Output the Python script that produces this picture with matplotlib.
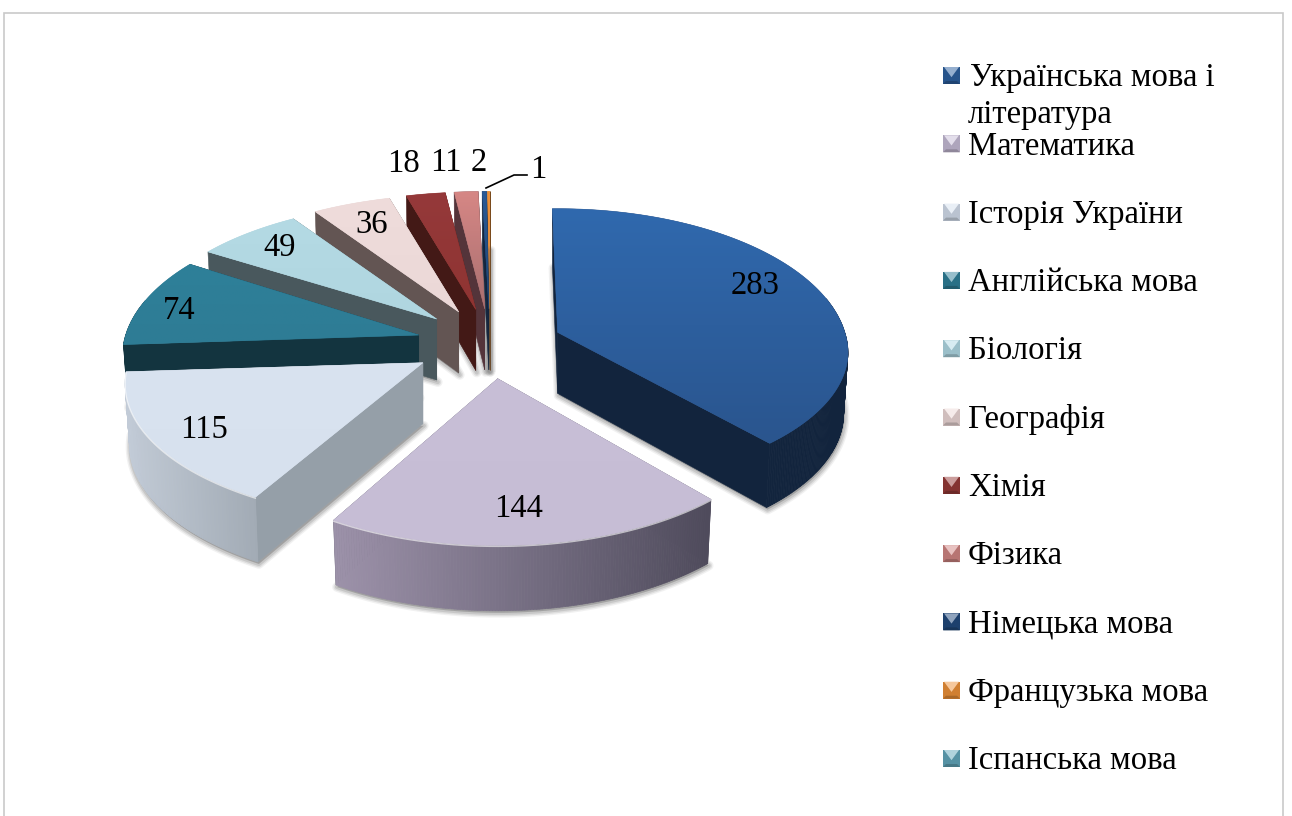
import numpy as np
import matplotlib
matplotlib.use("Agg")
import matplotlib.pyplot as plt
from matplotlib.colors import to_rgb
from matplotlib.patches import Polygon, Rectangle

plt.rcParams['font.family'] = ['Liberation Serif', 'DejaVu Serif']

# data
SUBJECTS = ["Українська мова і\nлітература", "Математика", "Історія України",
            "Англійська мова", "Біологія", "Географія", "Хімія", "Фізика",
            "Німецька мова", "Французька мова", "Іспанська мова"]
COUNTS   = [283, 144, 115, 74, 49, 36, 18, 11, 2, 1, 0]

# styles, one per subject
TOP_HI   = ["#3069ae", "#c8bfd7", "#d9e3f0", "#2e8099", "#b4dae4", "#efdcdb",
            "#95393a", "#d68785", "#2a5a96", "#ee8f35", "#5a9cb0"]
TOP_LO   = ["#2a558e", "#c6bdd5", "#d7e1ee", "#2e7c95", "#b0d6e0", "#ebd8d7",
            "#8f3432", "#a96f70", "#1f4473", "#e08a3c", "#5a9cb0"]
SIDE_L   = ["#12243d", "#9d92aa", "#c2cbd7", "#13343f", "#49585d", "#635553",
            "#431916", "#54343a", "#12243d", "#7a4a1c", "#2c4d57"]
SIDE_R   = ["#12243d", "#4f4b5c", "#a2abb5", "#13343f", "#49585d", "#635553",
            "#431916", "#54343a", "#12243d", "#7a4a1c", "#2c4d57"]
EDGE     = ["#12243d", "#4f4b5c", "#959fa8", "#13343f", "#49585d", "#635553",
            "#431916", "#54343a", "#12243d", "#7a4a1c", "#2c4d57"]
BEVEL    = [False, True, True, False, False, False, False, False, False, False, False]
LEGEND_C = ["#2c5f9e", "#c6bcd6", "#d3deec", "#2f7f98", "#b0d9e4", "#ecd8d7",
            "#963a38", "#d08583", "#21497c", "#ec9038", "#62a6ba"]
LABEL_XY = [(755, 286), (519, 509), (204, 430), (179, 311), (280, 248), (372, 225),
            (404, 164), (446, 163), (479, 163), (538, 170)]
# small per-slice position fixes (dx, dy) and outer scales
NUDGE    = [(-2, 4), (0, 0), (-2, 2), (1, 3), (-1, 3), (-1, 3), (0, 3), (0, 3), (0, 3), (0, 3), (0, 0)]
SCALE_X  = [0.98, 0.985, 1.005, 1.0, 1.0, 1.0, 1.0, 1.0, 1.0, 1.0, 1.0]
BACK_Y   = [1.0, 1.0, 1.0, 1.0, 0.95, 0.95, 0.95, 0.95, 0.95, 0.95, 1.0]
FRONT_Y  = [0.92, 1.0, 0.95, 1.0, 1.0, 1.0, 1.0, 1.0, 1.0, 1.0, 1.0]

# geometry of the tilted pie, in pixels
CENTER_X, CENTER_Y = 490, 341
RADIUS_X, RADIUS_Y = 293, 142
TILT     = 0.148
EXPLODE  = 0.257
DEPTH    = 61
FONT     = 23.5
DRAW_ORDER = [9, 8, 7, 6, 5, 4, 3, 2, 0, 1]
BLUE_LEAD  = 1.2


def project(theta_deg, r=1.0):
    theta = np.radians(theta_deg)
    u = r * np.sin(theta)
    v = r * np.cos(theta)
    w = 1 + TILT * v
    return RADIUS_X * u / w, -RADIUS_Y * v / w


def depth_at(theta_deg):
    return DEPTH / (1 + 0.45 * TILT * np.cos(np.radians(theta_deg)))


def mix(a, b, t):
    a, b = np.array(to_rgb(a)), np.array(to_rgb(b))
    return tuple(a + (b - a) * t)


def draw_slice(ax, i, start, end):
    mid = (start + end) / 2
    ex, ey = project(mid, EXPLODE)
    ax0, ay0 = CENTER_X + ex + NUDGE[i][0], CENTER_Y + ey + NUDGE[i][1]
    if i == 0:
        start = start - BLUE_LEAD

    thetas = np.linspace(start, end, max(int((end - start) * 2), 3))
    dx, dy = project(thetas)
    dx = dx * SCALE_X[i]
    dy = np.where(dy > 0, dy * FRONT_Y[i], dy * BACK_Y[i])
    top = np.column_stack([ax0 + dx, ay0 + dy])
    d = depth_at(thetas)
    bottom = np.column_stack([ax0 + dx * 0.985, ay0 + dy + d])
    apex_top = (ax0, ay0)
    apex_bot = (ax0, ay0 + DEPTH)

    # soft shadow round the lower cap
    cap = np.vstack([apex_bot, bottom])
    for lw, alpha in [(7, 0.08), (5, 0.12), (3, 0.16)]:
        ax.add_patch(Polygon(cap + [1, 2], closed=True, fc="#555555", ec="#555555",
                             lw=lw, alpha=alpha, joinstyle="round"))

    # radial walls
    for k in (0, -1):
        wall = [apex_top, top[k], bottom[k], apex_bot]
        ax.add_patch(Polygon(wall, closed=True, fc=EDGE[i], ec=EDGE[i], lw=0.4))

    # outer wall, only the front part is seen
    xmin, xmax = top[:, 0].min(), top[:, 0].max()
    for j in range(len(thetas) - 1):
        if np.cos(np.radians(thetas[j])) > 0.25:
            continue
        t = (top[j, 0] - xmin) / max(xmax - xmin, 1)
        col = mix(SIDE_L[i], SIDE_R[i], t)
        quad = [top[j], top[j + 1], bottom[j + 1], bottom[j]]
        ax.add_patch(Polygon(quad, closed=True, fc=col, ec=col, lw=0.5))

    # top face with a vertical gradient
    outline = np.vstack([apex_top, top])
    face = Polygon(outline, closed=True, fc=TOP_LO[i], ec=TOP_LO[i], lw=0.4)
    ax.add_patch(face)
    grad = np.array([[mix(TOP_HI[i], TOP_LO[i], t)] for t in np.linspace(0, 1, 64)])
    img = ax.imshow(grad, extent=(outline[:, 0].min(), outline[:, 0].max(),
                                  outline[:, 1].max(), outline[:, 1].min()),
                    aspect="auto", interpolation="bilinear")
    img.set_clip_path(face)
    img.set_zorder(1)
    face.set_zorder(1)

    if BEVEL[i]:
        ax.plot(top[:, 0], top[:, 1] + 1, color="white", lw=1.0, alpha=0.6, zorder=1)


def draw_legend_marker(ax, x, y, color):
    s = 17
    ax.add_patch(Rectangle((x, y), s, s, fc=mix(color, "#000000", 0.12), ec="none", zorder=3))
    mid = (x + s / 2, y + s * 0.6)
    ax.add_patch(Polygon([(x + 1, y), (x + s - 1, y), mid], closed=True,
                         fc=mix(color, "#ffffff", 0.5), ec="none", zorder=3))
    ax.add_patch(Polygon([(x, y + s), (x + s, y + s), (x + s - 3, y + s - 3), (x + 3, y + s - 3)],
                         closed=True, fc=mix(color, "#000000", 0.28), ec="none", zorder=3))


def main():
    fig = plt.figure(figsize=(12.92, 8.16), dpi=100, facecolor="white")
    ax = fig.add_axes([0, 0, 1, 1])

    ax.add_patch(Rectangle((3.5, 12.5), 1279, 820, fc="white", ec="#c9c9c9", lw=1.2))

    total = sum(COUNTS)
    edges = np.concatenate([[0], np.cumsum(COUNTS)]) / total * 360

    for i in DRAW_ORDER:
        draw_slice(ax, i, edges[i], edges[i + 1])

    for (x, y), value in zip(LABEL_XY, COUNTS):
        ax.text(x, y, str(value), fontsize=FONT, ha="center", va="center", color="black", zorder=4)

    # leader line for the smallest label
    ax.plot([486, 514, 527], [188, 175, 175], color="black", lw=1.2, zorder=4)

    # legend
    legend_y = 75
    legend_step = 68.3
    for i, name in enumerate(SUBJECTS):
        y = legend_y + i * legend_step
        draw_legend_marker(ax, 943, y - 8, LEGEND_C[i])
        lines = name.split("\n")
        for k, line in enumerate(lines):
            ax.text(970 if i == 0 and k == 0 else 968, y + 3 + k * 37, line, fontsize=FONT,
                    ha="left", va="center", color="black", zorder=4)

    ax.set_xlim(0, 1292)
    ax.set_ylim(816, 0)
    ax.axis("off")
    fig.savefig("out.png", dpi=100, facecolor="white")
    plt.close(fig)


if __name__ == "__main__":
    main()
